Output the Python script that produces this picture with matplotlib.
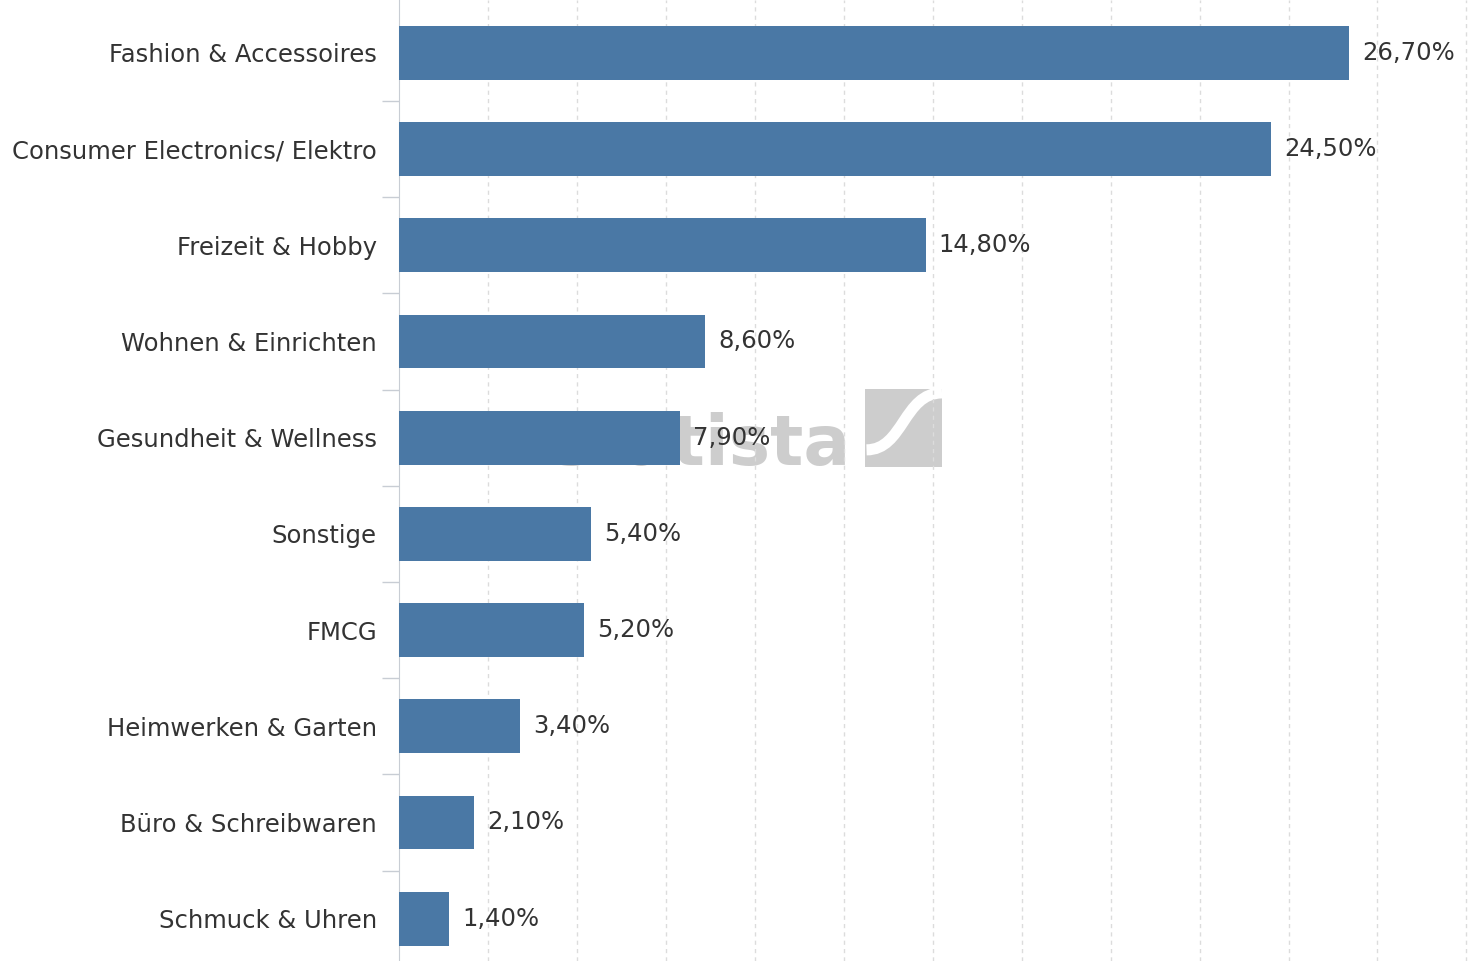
import matplotlib
matplotlib.use("Agg")
import matplotlib.pyplot as plt
from matplotlib.patches import Rectangle, PathPatch
from matplotlib.path import Path
import numpy as np

# Anteil am Online-Umsatz nach Warengruppe, in Prozent
categories = [
    "Fashion & Accessoires",
    "Consumer Electronics/ Elektro",
    "Freizeit & Hobby",
    "Wohnen & Einrichten",
    "Gesundheit & Wellness",
    "Sonstige",
    "FMCG",
    "Heimwerken & Garten",
    "Büro & Schreibwaren",
    "Schmuck & Uhren",
]
shares = [26.7, 24.5, 14.8, 8.6, 7.9, 5.4, 5.2, 3.4, 2.1, 1.4]

BAR = "#4a78a5"
TEXT = "#333333"
WM = "#cdcdcd"

fig = plt.figure(figsize=(14.7, 9.61), dpi=100)

# statista watermark, drawn underneath the bars
fig.text(550 / 1470, 1 - 465 / 961, "statista", fontsize=50, fontweight="bold",
         color=WM, ha="left", va="baseline", zorder=0)
logo = fig.add_axes([865 / 1470, 1 - 467 / 961, 77 / 1470, 78 / 961])
logo.set_xlim(0, 1)
logo.set_ylim(0, 1)
logo.axis("off")
logo.add_patch(Rectangle((0, 0), 1, 1, color=WM))
curve = Path([(0.02, 0.22), (0.5, 0.22), (0.5, 0.95), (1.0, 0.95)],
             [Path.MOVETO, Path.CURVE4, Path.CURVE4, Path.CURVE4])
logo.add_patch(PathPatch(curve, fill=False, edgecolor="white", lw=8,
                         capstyle="butt"))
logo.set_zorder(1)

ax = fig.add_axes([399 / 1470, 0.0, 1 - 399 / 1470, 1.0])
ax.set_zorder(2)
ax.patch.set_alpha(0)

y = np.arange(len(categories))
ax.barh(y, shares, height=0.56, color=BAR, zorder=3)

for yi, v in zip(y, shares):
    ax.text(v + 0.37, yi, ("%.2f" % v).replace(".", ",") + "%", va="center",
            ha="left", fontsize=17.5, color=TEXT, zorder=4)

ax.set_xlim(0, 30.1)
ax.set_ylim(len(categories) - 0.56, -0.55)
ax.set_xticks(np.arange(2.5, 30.1, 2.5))
ax.tick_params(axis="x", length=0, labelbottom=False)
ax.set_yticks(y)
ax.set_yticklabels(categories, fontsize=17.5, color=TEXT)
ax.tick_params(axis="y", which="major", length=0, pad=16)
ax.set_yticks(y[:-1] + 0.5, minor=True)
ax.tick_params(axis="y", which="minor", length=12, width=1, color="#c8cdd4")
ax.grid(axis="x", color="#dcdcdc", ls=(0, (3, 3)), lw=1, zorder=0)
for s in ("top", "right", "bottom"):
    ax.spines[s].set_visible(False)
ax.spines["left"].set_color("#c8cdd4")

fig.savefig("out.png", dpi=100)
